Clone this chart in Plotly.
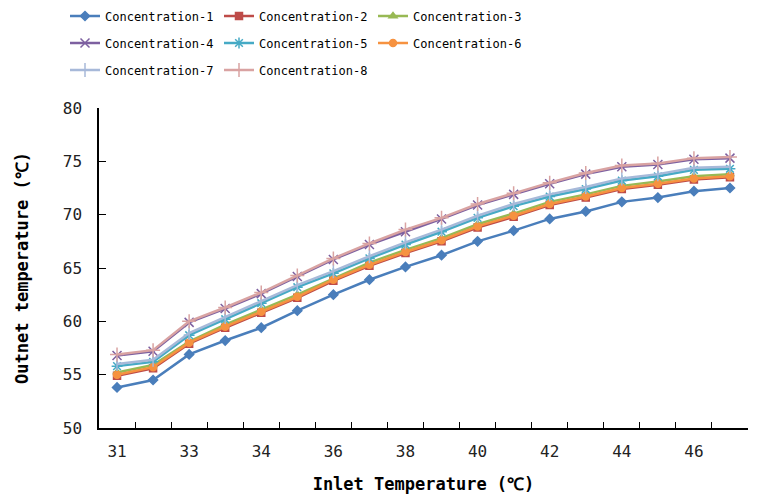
import plotly.graph_objects as go

# ---- data ----
x_pos = list(range(18))
tick_labels = ["31", "", "33", "", "34", "", "36", "", "38", "", "40", "", "42", "", "44", "", "46", ""]

c1 = [53.8, 54.5, 56.9, 58.2, 59.4, 61.0, 62.5, 63.9, 65.1, 66.2, 67.5, 68.5, 69.6, 70.3, 71.2, 71.6, 72.2, 72.5]
c2 = [54.9, 55.6, 57.9, 59.4, 60.8, 62.2, 63.8, 65.2, 66.4, 67.5, 68.8, 69.8, 70.9, 71.6, 72.4, 72.8, 73.3, 73.5]
c3 = [55.2, 55.9, 58.1, 59.7, 61.1, 62.5, 64.0, 65.5, 66.7, 67.8, 69.1, 70.1, 71.2, 71.9, 72.7, 73.1, 73.6, 73.8]
c4 = [56.8, 57.2, 59.9, 61.2, 62.6, 64.2, 65.8, 67.2, 68.4, 69.6, 70.9, 71.9, 72.9, 73.8, 74.5, 74.7, 75.2, 75.3]
c5 = [55.8, 56.2, 58.7, 60.2, 61.7, 63.2, 64.5, 65.9, 67.2, 68.4, 69.7, 70.8, 71.7, 72.4, 73.2, 73.6, 74.2, 74.3]
c6 = [55.0, 55.7, 58.0, 59.5, 60.9, 62.3, 63.9, 65.3, 66.5, 67.6, 68.9, 69.9, 71.0, 71.7, 72.5, 72.9, 73.4, 73.6]
c7 = [56.0, 56.4, 58.9, 60.4, 61.9, 63.4, 64.7, 66.1, 67.4, 68.6, 69.9, 71.0, 71.9, 72.6, 73.4, 73.8, 74.4, 74.5]
c8 = [56.9, 57.3, 60.0, 61.3, 62.7, 64.3, 65.9, 67.3, 68.6, 69.7, 71.0, 72.0, 73.0, 73.9, 74.6, 74.8, 75.3, 75.4]

names = ["Concentration-%d" % i for i in range(1, 9)]
series = [c1, c2, c3, c4, c5, c6, c7, c8]

# ---- styles ----
colors = ["#4A7EBB", "#BE4B48", "#98B954", "#7D60A0", "#46AAC5", "#F69240", "#A7B9D9", "#D9A3A2"]
symbols = ["diamond", "square", "triangle-up", "x-thin-open", "asterisk-open", "circle",
           "line-ns-open", "cross-thin-open"]
sizes = [7, 7, 7, 9, 9, 7, 10, 10]
legends = ["legend", "legend", "legend", "legend2", "legend2", "legend2", "legend3", "legend3"]

FONT = "DejaVu Sans Mono"
W, H = 776, 488  # page body has an 8px margin inside the 784x496 window

fig = go.Figure()
for name, ys, col, sym, sz, lg in zip(names, series, colors, symbols, sizes, legends):
    fig.add_trace(go.Scatter(
        x=x_pos, y=ys, name=name, mode="lines+markers",
        line=dict(color=col, width=2.5),
        marker=dict(symbol=sym, size=sz, color=col, line=dict(color=col, width=1.5)),
        legend=lg,
    ))

leg_common = dict(orientation="h", xref="container", yref="container",
                  xanchor="left", yanchor="middle", entrywidth=109,
                  font=dict(family=FONT, size=12, color="#000000"),
                  bgcolor="rgba(0,0,0,0)", itemwidth=30)

fig.update_layout(
    width=W, height=H,
    margin=dict(l=91, r=36, t=100, b=68, autoexpand=False),
    paper_bgcolor="white", plot_bgcolor="white",
    showlegend=True,
    legend=dict(x=57 / W, y=1 - 8 / H, **leg_common),
    legend2=dict(x=57 / W, y=1 - 35 / H, **leg_common),
    legend3=dict(x=57 / W, y=1 - 62 / H, **leg_common),
    font=dict(family=FONT, color="#000000"),
)

fig.update_xaxes(
    range=[-0.5, 17.5], tickmode="array", tickvals=x_pos, ticktext=tick_labels,
    ticks="inside", ticklen=0, showgrid=False, zeroline=False, automargin=False,
    showline=True, linecolor="#000000", linewidth=1.5,
    tickfont=dict(family=FONT, size=16, color="#222222"),
    ticklabelstandoff=8,
    minor=dict(tickmode="array", tickvals=[i - 0.5 for i in range(19)],
               ticks="inside", ticklen=6, tickcolor="#000000", tickwidth=1.2, showgrid=False),
    title=dict(text="Inlet Temperature (℃)", standoff=18,
               font=dict(family=FONT, size=17, color="#000000", weight="bold")),
)
fig.update_yaxes(
    range=[50, 80], dtick=5, tick0=50,
    ticks="inside", ticklen=7, tickcolor="#000000", tickwidth=1.2,
    showgrid=False, zeroline=False, automargin=False,
    showline=True, linecolor="#000000", linewidth=1.5,
    tickfont=dict(family=FONT, size=16, color="#222222"),
    ticklabelstandoff=12,
    title=dict(text="Outnet temperature (℃)", standoff=30,
               font=dict(family=FONT, size=17, color="#000000", weight="bold")),
)

fig.write_html("out.html")
